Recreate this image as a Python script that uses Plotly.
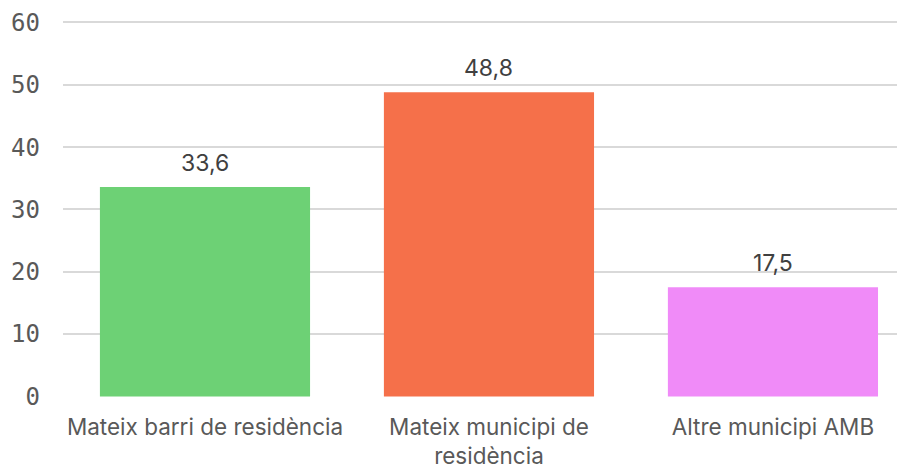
import plotly.graph_objects as go

categories = ["Mateix barri de residència", "Mateix municipi de<br>residència", "Altre municipi AMB"]
values = [33.6, 48.8, 17.5]
labels = ["33,6", "48,8", "17,5"]
colors = ["#6dd175", "#f5704a", "#f08bf8"]
y_ticks = [0, 10, 20, 30, 40, 50, 60]

fig = go.Figure()
fig.add_trace(go.Bar(x=categories, y=values, marker=dict(color=colors, line=dict(width=0)),
                     width=0.74, hoverinfo="skip"))
for c, v, t in zip(categories, values, labels):
    fig.add_annotation(x=c, y=v, text=t, showarrow=False, yanchor="bottom", yshift=8,
                       font=dict(family="Inter", size=23, color="#404040"))

# page body has a default 8px margin; size the figure to fill the remaining window
fig.update_layout(
    width=897, height=457,
    margin=dict(l=55, r=0, t=12, b=68, autoexpand=False),
    paper_bgcolor="white", plot_bgcolor="white",
    showlegend=False,
    xaxis=dict(range=[-0.5, 2.465], showgrid=False, showline=False, ticks="", automargin=False,
               tickfont=dict(family="Inter", size=22.5, color="#595959"), ticklabelstandoff=14),
    yaxis=dict(range=[-0.1, 60.4], tickvals=y_ticks, ticktext=[str(v) for v in y_ticks], automargin=False,
               showgrid=True, gridcolor="#d9d9d9", gridwidth=1.5, zeroline=False, showline=False,
               tickfont=dict(family="DejaVu Sans Mono", size=24, color="#595959"), ticklabelstandoff=22),
)
fig.write_html("out.html")
